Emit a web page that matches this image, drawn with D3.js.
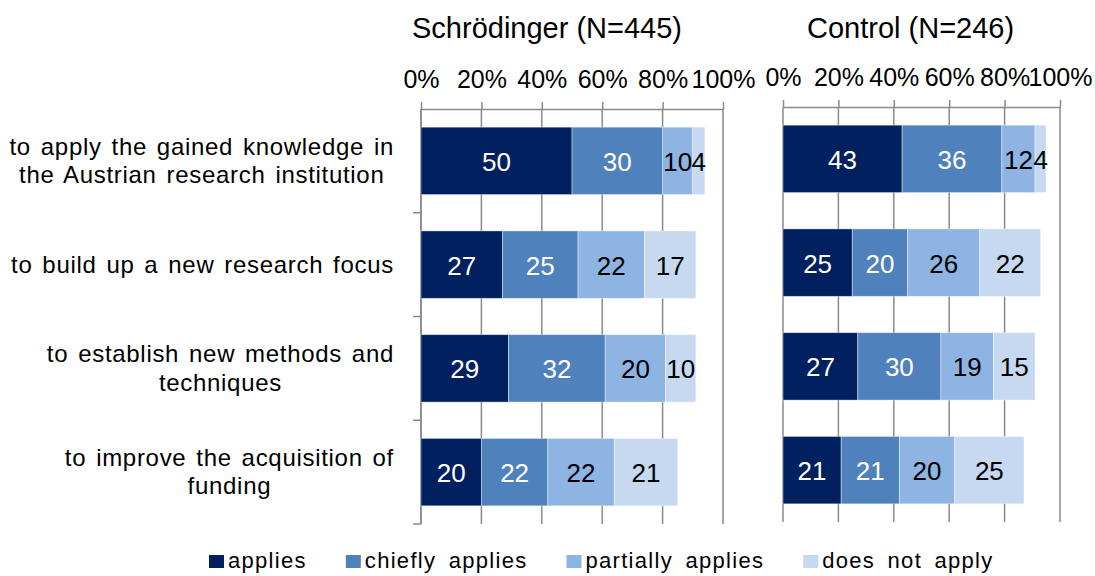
<!DOCTYPE html>
<html>
<head>
<meta charset="utf-8">
<script src="https://cdn.jsdelivr.net/npm/d3@7"></script>
<style>
body { margin: 0; background: #fff; }
svg { font-family: "Liberation Sans", Arial, sans-serif; }
</style>
</head>
<body>
<div id="chart"></div>
<script>
const categories = [
    ["to apply the gained knowledge in", "the Austrian research institution"],
    ["to build up a new research focus"],
    ["to establish new methods and", "techniques"],
    ["to improve the acquisition of", "funding"]
];
const series = ["applies", "chiefly applies", "partially applies", "does not apply"];
const colors = ["#002060", "#4f81bd", "#8eb4e3", "#c6d9f1"];
const labelColors = ["#fff", "#fff", "#000", "#000"];
const tickValues = [0, 20, 40, 60, 80, 100];

// percentages per category, in series order
const schroedinger = [
    [50, 30, 10, 4],
    [27, 25, 22, 17],
    [29, 32, 20, 10],
    [20, 22, 22, 21]
];
const control = [
    [43, 36, 12, 4],
    [25, 20, 26, 22],
    [27, 30, 19, 15],
    [21, 21, 20, 25]
];

const width = 1095, height = 576;
const gridColor = "#8a8a8a";

const svg = d3.select("#chart")
    .append("svg")
    .attr("width", width)
    .attr("height", height);

function drawPanel(p) {
    const x = d3.scaleLinear()
        .domain([0, 100])
        .range([p.left, p.right]);

    const y = d3.scaleBand()
        .domain(categories.map((c, i) => i))
        .range([p.top, p.bottom])
        .paddingInner(0.35)
        .paddingOuter(0.175);

    const g = svg.append("g");

    // title
    g.append("text")
        .attr("x", p.titleX)
        .attr("y", 38)
        .style("font-size", "29px")
        .style("fill", "#000")
        .text(p.title);

    // vertical gridlines
    g.append("g")
        .selectAll("line")
        .data(tickValues)
        .enter()
        .append("line")
        .attr("x1", d => x(d))
        .attr("x2", d => x(d))
        .attr("y1", p.top)
        .attr("y2", p.bottom)
        .attr("stroke", gridColor)
        .attr("stroke-width", 1.5);

    // top axis
    const axis = g.append("g")
        .attr("transform", "translate(0," + p.top + ")")
        .call(d3.axisTop(x)
            .tickValues(tickValues)
            .tickSize(7)
            .tickSizeOuter(0)
            .tickPadding(14)
            .tickFormat(d => d + "%"));
    axis.select(".domain").attr("stroke", gridColor).attr("stroke-width", 1.5);
    axis.selectAll(".tick line").attr("stroke", gridColor).attr("stroke-width", 1.5);
    axis.selectAll(".tick text")
        .style("font-size", "25px")
        .style("font-family", "'Liberation Sans', Arial, sans-serif")
        .attr("fill", "#000");

    // left axis with category ticks
    if (p.catTicks) {
        g.append("line")
            .attr("x1", p.left).attr("x2", p.left)
            .attr("y1", p.top).attr("y2", p.bottom)
            .attr("stroke", gridColor).attr("stroke-width", 1.5);
        g.append("g")
            .selectAll("line")
            .data(categories.map((c, i) => i + 1))
            .enter()
            .append("line")
            .attr("x1", p.left - 8)
            .attr("x2", p.left)
            .attr("y1", d => p.top + d * y.step())
            .attr("y2", d => p.top + d * y.step())
            .attr("stroke", gridColor)
            .attr("stroke-width", 1.5);
    }

    const rows = p.data.map((v, i) => {
        const r = { cat: i };
        series.forEach((s, j) => { r[s] = v[j]; });
        return r;
    });
    const stacked = d3.stack().keys(series)(rows);

    const layers = g.append("g")
        .selectAll("g")
        .data(stacked)
        .enter()
        .append("g");

    layers.selectAll("rect")
        .data(d => d)
        .enter()
        .append("rect")
        .attr("x", d => x(d[0]))
        .attr("width", d => x(d[1]) - x(d[0]))
        .attr("y", d => y(d.data.cat))
        .attr("height", y.bandwidth())
        .attr("fill", function () { return colors[d3.select(this.parentNode).datum().index]; })
        .attr("stroke", "#fff")
        .attr("stroke-opacity", 0.5)
        .attr("stroke-width", 0.8);

    layers.selectAll("text")
        .data(d => d)
        .enter()
        .append("text")
        .attr("x", d => x((d[0] + d[1]) / 2))
        .attr("y", d => y(d.data.cat) + y.bandwidth() / 2 + 10)
        .attr("text-anchor", "middle")
        .style("font-size", "26px")
        .style("fill", function () { return labelColors[d3.select(this.parentNode).datum().index]; })
        .text(d => d[1] - d[0]);

    // category labels
    if (p.catLabels) {
        categories.forEach((lines, i) => {
            const lg = g.append("g");
            const texts = lines.map((line, k) => lg.append("text")
                .attr("y", y(i) + y.bandwidth() / 2 + (k - (lines.length - 1) / 2) * 28.5 + 8)
                .attr("text-anchor", "middle")
                .style("font-size", "24px")
                .style("letter-spacing", "0.7px")
                .style("word-spacing", "2.5px")
                .style("fill", "#000")
                .text(line));
            const maxW = d3.max(texts, t => t.node().getComputedTextLength());
            texts.forEach(t => t.attr("x", 394 - maxW / 2));
        });
    }
}

drawPanel({
    title: "Schrödinger (N=445)", data: schroedinger, titleX: 412,
    left: 421, right: 723, top: 109, bottom: 524, catTicks: true, catLabels: true
});
drawPanel({
    title: "Control (N=246)", data: control, titleX: 807,
    left: 783, right: 1060, top: 107, bottom: 522, catTicks: false, catLabels: false
});

// legend
const legend = svg.append("g");
let lx = 209;
series.forEach((s, i) => {
    legend.append("rect")
        .attr("x", lx)
        .attr("y", 555)
        .attr("width", 15)
        .attr("height", 13)
        .attr("fill", colors[i]);
    const t = legend.append("text")
        .attr("x", lx + 19)
        .attr("y", 568)
        .style("font-size", "22px")
        .style("letter-spacing", "1.3px")
        .style("word-spacing", "5px")
        .style("fill", "#000")
        .text(s);
    lx += 19 + t.node().getComputedTextLength() + 39;
});
</script>
</body>
</html>
